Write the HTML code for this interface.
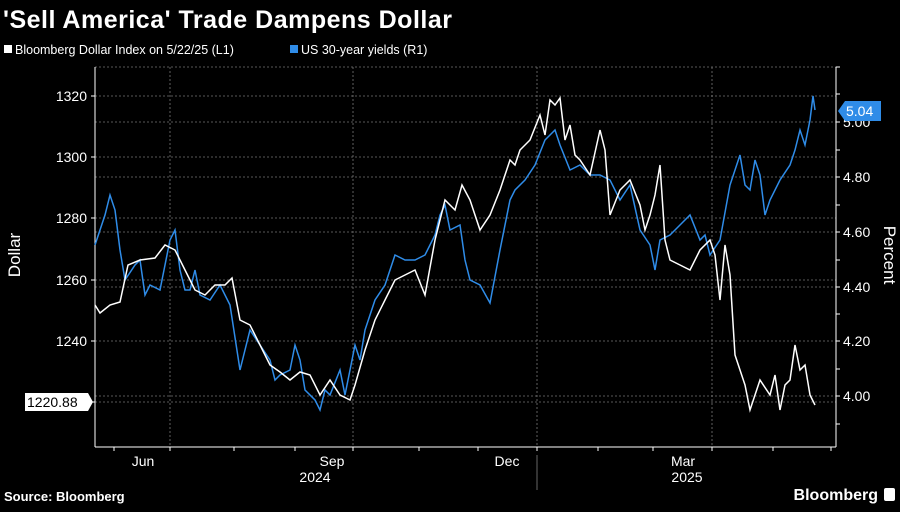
<!DOCTYPE html>
<html><head><meta charset="utf-8"><style>
body{margin:0;background:#000;width:900px;height:507px;overflow:hidden;font-family:"Liberation Sans",sans-serif}
</style></head><body>
<svg width="900" height="507" xmlns="http://www.w3.org/2000/svg" font-family="Liberation Sans, sans-serif">
<rect width="900" height="507" fill="#000"/>
<text x="3" y="28" fill="#fff" font-size="25" font-weight="bold" letter-spacing="0.5">'Sell America' Trade Dampens Dollar</text>
<rect x="4" y="45" width="8" height="8" fill="#fff"/>
<text x="15" y="54" fill="#fff" font-size="12.5">Bloomberg Dollar Index on 5/22/25 (L1)</text>
<rect x="290" y="45" width="8" height="8" fill="#2f8ce8"/>
<text x="301" y="54" fill="#fff" font-size="12.5">US 30-year yields  (R1)</text>
<g stroke="#777" stroke-width="0.8" stroke-dasharray="2,2">
<line x1="95" x2="836" y1="67" y2="67"/>
<line x1="95" x2="836" y1="96" y2="96"/><line x1="95" x2="836" y1="122" y2="122"/>
<line x1="95" x2="836" y1="157" y2="157"/><line x1="95" x2="836" y1="177" y2="177"/>
<line x1="95" x2="836" y1="218" y2="218"/><line x1="95" x2="836" y1="232" y2="232"/>
<line x1="95" x2="836" y1="280" y2="280"/><line x1="95" x2="836" y1="287" y2="287"/>
<line x1="95" x2="836" y1="341" y2="341"/><line x1="95" x2="836" y1="396" y2="396"/>
<line x1="95" x2="836" y1="402" y2="402"/>
<line x1="170" x2="170" y1="67" y2="447"/><line x1="353" x2="353" y1="67" y2="447"/>
<line x1="537" x2="537" y1="67" y2="447"/><line x1="712" x2="712" y1="67" y2="447"/>
</g>
<g stroke="#fff" stroke-width="1" fill="none">
<line x1="95" y1="67" x2="95" y2="447"/><line x1="836" y1="67" x2="836" y2="447"/>
<line x1="95" y1="447" x2="836" y2="447"/>
<path d="M91 96h4M91 157h4M91 218h4M91 280h4M91 341h4M91 402h4M836 67h4M836 122h4M836 177h4M836 232h4M836 287h4M836 341h4M836 396h4M836 94h4M836 150h4M836 205h4M836 260h4M836 314h4M836 369h4M836 424h4"/>
<path d="M114 447v4M170 447v4M234 447v4M295 447v4M353 447v4M419 447v4M478 447v4M537 447v4M598 447v4M653 447v4M712 447v4M773 447v4M831 447v4"/>
<line x1="537" y1="455" x2="537" y2="490" stroke="#666"/>
</g>
<g fill="#fff" font-size="14">
<text x="87" y="101" text-anchor="end">1320</text><text x="87" y="162" text-anchor="end">1300</text>
<text x="87" y="223" text-anchor="end">1280</text><text x="87" y="285" text-anchor="end">1260</text>
<text x="87" y="346" text-anchor="end">1240</text>
<text x="843" y="127">5.00</text><text x="843" y="182">4.80</text><text x="843" y="237">4.60</text>
<text x="843" y="292">4.40</text><text x="843" y="346">4.20</text><text x="843" y="401">4.00</text>
<text x="143" y="466" text-anchor="middle">Jun</text><text x="332" y="466" text-anchor="middle">Sep</text>
<text x="507" y="466" text-anchor="middle">Dec</text><text x="683" y="466" text-anchor="middle">Mar</text>
<text x="315" y="482" text-anchor="middle">2024</text><text x="687" y="482" text-anchor="middle">2025</text>
<text x="20" y="255" font-size="17" transform="rotate(-90 20 255)" text-anchor="middle">Dollar</text>
<text x="884" y="255" font-size="17" transform="rotate(90 884 255)" text-anchor="middle">Percent</text>
</g>
<polyline fill="none" stroke="#2f8ce8" stroke-width="1.5" points="95,245 100,230 105,215 110,195 115,210 120,250 125,280 135,265 140,260 145,295 150,285 160,290 170,240 175,230 180,270 185,290 190,290 195,270 200,295 210,300 220,285 230,305 240,370 250,330 260,345 270,360 275,380 280,375 290,370 295,345 300,360 305,390 315,400 320,410 325,390 330,395 340,370 345,395 350,370 355,345 360,360 365,330 375,300 385,285 395,255 405,260 415,260 425,255 435,235 440,215 445,205 450,230 460,225 465,260 470,280 480,285 490,303 500,250 510,200 515,190 525,180 535,165 545,140 555,130 560,145 570,170 580,165 590,175 600,175 610,180 620,200 630,185 640,230 650,245 655,270 660,240 670,235 680,225 690,215 700,240 705,235 710,255 720,240 730,185 740,155 745,185 750,190 755,160 760,175 765,215 770,200 780,180 790,165 795,150 800,130 805,145 810,120 813,96 815,110"/>
<polyline fill="none" stroke="#fff" stroke-width="1.5" points="95,305 100,313 110,305 120,302 128,265 140,260 155,258 165,245 175,250 185,270 195,290 205,295 215,285 225,285 232,278 240,320 250,325 260,345 270,365 280,372 290,380 300,372 310,375 320,395 330,380 340,395 350,400 355,385 365,350 375,320 385,300 395,280 405,275 415,270 425,295 435,240 445,200 455,210 462,185 470,200 480,230 490,215 500,190 510,160 515,165 520,150 530,140 540,115 545,135 550,100 555,105 560,98 565,140 570,125 575,155 580,160 590,175 600,130 605,150 610,215 620,190 630,180 640,205 645,230 650,215 655,195 660,165 665,240 670,260 680,265 690,270 700,250 710,240 715,255 720,300 725,245 730,275 735,355 745,385 750,410 760,380 770,395 775,375 780,410 785,385 790,380 795,345 800,370 805,365 810,395 815,405"/>
<path d="M838 111 L845 101 H881 V121 H845 Z" fill="#2f8ce8"/>
<text x="846" y="116" fill="#fff" font-size="14">5.04</text>
<path d="M25 393 H88 L93 402 L88 411 H25 Z" fill="#fff"/>
<text x="27" y="407" fill="#000" font-size="14">1220.88</text>
<text x="4" y="501" fill="#fff" font-size="13" font-weight="bold">Source: Bloomberg</text>
<text x="878" y="500" fill="#fff" font-size="16" font-weight="bold" text-anchor="end">Bloomberg</text>
<rect x="884" y="488" width="11" height="13" rx="2" fill="#fff"/>
</svg>
</body></html>
